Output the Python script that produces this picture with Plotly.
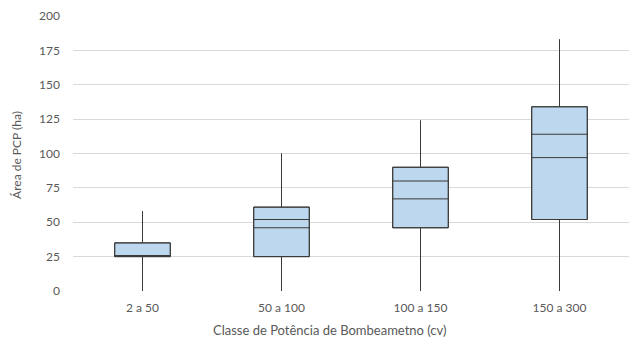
import plotly.graph_objects as go

# Classes de potência e estatísticas da área de PCP (ha)
categorias = ["2 a 50", "50 a 100", "100 a 150", "150 a 300"]
minimo = [0, 0, 0, 0]
q1 = [25, 25, 46, 52]
mediana = [25, 46, 67, 97]
media = [25, 52, 80, 114]
q3 = [35, 61, 90, 134]
maximo = [58, 100, 124, 183]

y_ticks = [0, 25, 50, 75, 100, 125, 150, 175, 200]

fonte = "Lato, 'Open Sans', sans-serif"
cinza_texto = "#595959"
azul_caixa = "#BDD7EE"
contorno = "#3A3A3A"

fig = go.Figure()

# Caixa principal com a mediana
fig.add_trace(go.Box(
    x=categorias,
    q1=q1, median=mediana, q3=q3,
    lowerfence=minimo, upperfence=maximo,
    fillcolor=azul_caixa,
    line=dict(color=contorno, width=1),
    whiskerwidth=0,
    width=0.4,
    boxpoints=False,
    hoverinfo="skip",
    showlegend=False,
))

# Segunda linha interna (média), sobreposta na mesma caixa
fig.add_trace(go.Box(
    x=categorias,
    q1=q1, median=media, q3=q3,
    lowerfence=minimo, upperfence=maximo,
    fillcolor="rgba(0,0,0,0)",
    line=dict(color=contorno, width=1),
    whiskerwidth=0,
    width=0.4,
    boxpoints=False,
    hoverinfo="skip",
    showlegend=False,
))

fig.update_layout(
    width=629, height=345,
    margin=dict(l=73, r=0, t=16, b=54),
    paper_bgcolor="white",
    plot_bgcolor="white",
    boxmode="overlay",
    font=dict(family=fonte, size=12, color=cinza_texto),
    xaxis=dict(
        type="category",
        range=[-0.5, 3.5],
        showgrid=False,
        showline=False,
        zeroline=False,
        ticks="",
        ticklabelstandoff=8,
        tickfont=dict(family=fonte, size=12, color=cinza_texto),
    ),
    yaxis=dict(
        range=[0, 200],
        tickvals=y_ticks,
        showgrid=True,
        gridcolor="#D9D9D9",
        gridwidth=1,
        zeroline=False,
        showline=False,
        ticks="",
        ticklabelstandoff=12,
        tickfont=dict(family=fonte, size=12, color=cinza_texto),
    ),
    annotations=[
        dict(
            text="Classe de Potência de Bombeametno (cv)",
            xref="paper", yref="paper",
            x=0.462, y=-0.142,
            xanchor="center", yanchor="middle",
            showarrow=False,
            font=dict(family=fonte, size=13, color=cinza_texto),
        ),
        dict(
            text="Área de PCP (ha)",
            xref="paper", yref="paper",
            x=-0.1007, y=0.495,
            xanchor="center", yanchor="middle",
            textangle=-90,
            showarrow=False,
            font=dict(family=fonte, size=12, color=cinza_texto),
        ),
    ],
)

fig.write_html("out.html")
